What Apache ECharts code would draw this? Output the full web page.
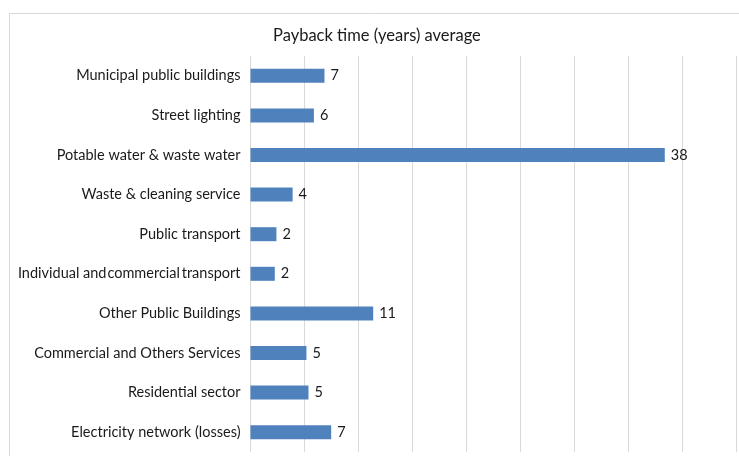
<!DOCTYPE html>
<html>
<head>
<meta charset="utf-8">
<script src="https://cdn.jsdelivr.net/npm/echarts@6/dist/echarts.min.js"></script>
<style>
  html, body { margin: 0; padding: 0; background: #ffffff; }
  #chart { width: 739px; height: 456px; }
</style>
</head>
<body>
<div id="chart"></div>
<script>
// Sectors, listed top to bottom
const categories = [
  'Municipal public buildings',
  'Street lighting',
  'Potable water & waste water',
  'Waste & cleaning service',
  'Public transport',
  'Individual and\u200Acommercial\u2009transport',
  'Other Public Buildings',
  'Commercial and Others Services',
  'Residential sector',
  'Electricity network (losses)'
];

// Average payback time in years for each sector
const paybackYears = [6.85, 5.87, 38.36, 3.9, 2.4, 2.25, 11.36, 5.18, 5.37, 7.47];

// Value axis range
const axisMin = 0;
const axisMax = 45;
const axisStep = 5;

const FONT = 'Lato, "Open Sans", sans-serif';

const chart = echarts.init(document.getElementById('chart'), null, { renderer: 'canvas' });

chart.setOption({
  animation: false,
  backgroundColor: '#ffffff',
  graphic: [{
    type: 'rect',
    silent: true,
    shape: { x: 9.5, y: 13.5, width: 760, height: 460 },
    style: { fill: 'none', stroke: '#d9d9d9', lineWidth: 1 }
  }],
  title: {
    text: 'Payback time (years) average',
    left: 268,
    top: 22,
    textStyle: { fontFamily: FONT, fontSize: 16.5, fontWeight: 'normal', color: '#1a1a1a' }
  },
  grid: { left: 250.5, right: 2.5, top: 56, bottom: 4, containLabel: false },
  xAxis: {
    type: 'value',
    min: axisMin,
    max: axisMax,
    interval: axisStep,
    axisLine: { show: false },
    axisTick: { show: false },
    axisLabel: { show: false },
    splitLine: { show: true, lineStyle: { color: '#d9d9d9', width: 1 } }
  },
  yAxis: {
    type: 'category',
    inverse: true,
    data: categories,
    axisLine: { show: false },
    axisTick: { show: false },
    axisLabel: { fontFamily: FONT, fontSize: 14.5, color: '#1a1a1a', margin: 10 }
  },
  series: [{
    type: 'bar',
    data: paybackYears,
    barWidth: 14,
    itemStyle: { color: '#4f81bd' },
    label: {
      show: true,
      position: 'right',
      distance: 6,
      fontFamily: FONT,
      fontSize: 14.5,
      color: '#1a1a1a',
      formatter: p => Math.round(p.value).toString()
    }
  }]
});
</script>
</body>
</html>
